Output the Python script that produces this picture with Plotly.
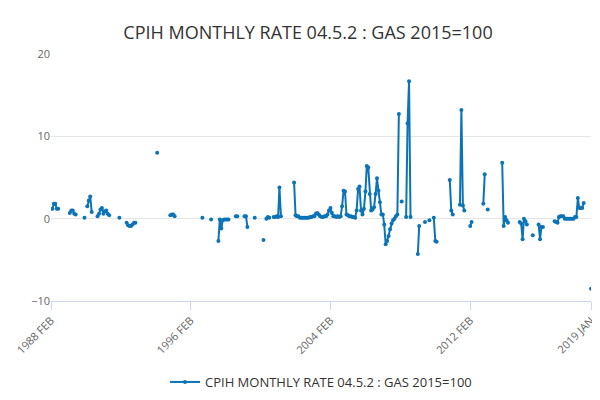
import pandas as pd
import plotly.graph_objects as go

# monthly series from 1988 FEB; segments = (month offset, consecutive values)
segments = [
    (1, [1.2, 1.8, 1.8, 1.2, 1.2]),
    (13, [0.7, 1.0, 1.0, 0.6, 0.5]),
    (23, [0.1]),
    (25, [1.5, 2.2, 2.7, 0.8]),
    (32, [0.3, 0.6, 1.1, 1.3, 0.6, 0.9, 1.0, 0.6, 0.4]),
    (47, [0.1]),
    (52, [-0.5, -0.8, -0.9, -0.9, -0.7, -0.5, -0.5]),
    (73, [8.0]),
    (82, [0.4, 0.5, 0.5, 0.3]),
    (104, [0.1]),
    (110, [-0.1]),
    (115, [-2.7, -0.1, -1.2, -0.2, -0.1, -0.1, -0.1, -0.1]),
    (127, [0.3, 0.3]),
    (133, [0.3, 0.3, -1.0]),
    (140, [0.1]),
    (146, [-2.6]),
    (148, [0.0, 0.2, 0.1]),
    (153, [0.2, 0.2, 0.3, 0.2, 3.8, 0.3]),
    (167, [4.4, 0.4, 0.3, 0.3, 0.1, 0.1, 0.1, 0.1, 0.1, 0.1, 0.1, 0.2, 0.2,
           0.3, 0.3, 0.6, 0.7, 0.5, 0.3, 0.2, 0.2, 0.3, 0.3, 0.5, 1.0, 1.3,
           0.7, 0.3, 0.3, 0.2, 0.3, 0.2, 0.3, 1.5, 3.4, 3.3, 0.5, 0.4, 0.3,
           0.3, 0.2, 0.2, 0.1, 1.0, 3.6, 3.9, 1.0, 0.5, 1.2, 3.3, 6.4, 6.2,
           3.0, 1.0, 1.1, 1.4, 3.0, 4.9, 3.4, 2.0, 0.5, 0.5, -0.7, -3.1,
           -2.7, -2.1, -1.3, -0.6, -0.2, 0.0, 0.3, 0.5, 12.7]),
    (241, [2.1]),
    (244, [0.2, 11.6, 16.7, 0.2]),
    (252, [-4.3, -0.9]),
    (257, [-0.4]),
    (260, [-0.2]),
    (263, [0.1, -2.7, -2.8]),
    (274, [4.7, 1.0, 0.5]),
    (281, [1.7, 13.2, 1.6, 1.0]),
    (288, [-0.9, -0.4]),
    (297, [1.8, 5.4]),
    (300, [1.1]),
    (310, [6.8, -0.9, 0.2, -0.2, -0.5]),
    (322, [-0.4, -0.6, -2.5, 0.0, -0.3, -0.7]),
    (331, [-2.0]),
    (335, [-0.7, -2.5, -1.0, -1.0]),
    (346, [-0.3, -0.4, -0.5, 0.2, 0.3, 0.3, 0.3, 0.0, 0.0, 0.0, 0.0, 0.0,
           0.0, 0.0, 0.2, 0.2, 2.5, 1.3, 1.3, 1.3, 1.9]),
    (371, [-8.5]),
]

dates = pd.date_range("1988-02-01", periods=372, freq="MS")
values = [None] * len(dates)
for start, vals in segments:
    for i, v in enumerate(vals):
        values[start + i] = v

tick_dates = ["1988-02-01", "1996-02-01", "2004-02-01", "2012-02-01", "2019-01-01"]
tick_text = ["1988 FEB", "1996 FEB", "2004 FEB", "2012 FEB", "2019 JAN"]

color = "#0b74b7"
fig = go.Figure(go.Scatter(
    x=dates, y=values, mode="lines+markers",
    line=dict(color=color, width=2), marker=dict(color=color, size=4),
    connectgaps=False, name="CPIH MONTHLY RATE 04.5.2 : GAS 2015=100",
))

fig.update_layout(
    width=600, height=400,
    title=dict(text="CPIH MONTHLY RATE 04.5.2 : GAS 2015=100", x=0.5, y=0.955,
               xanchor="center", font=dict(size=18, color="#333")),
    font=dict(family="Open Sans, sans-serif", color="#555"),
    margin=dict(l=43, r=17, t=46, b=107, autoexpand=False),
    plot_bgcolor="white", paper_bgcolor="white",
    showlegend=True,
    legend=dict(orientation="h", x=0.5, xanchor="center", yref="container",
                y=0.065, yanchor="middle", font=dict(size=13, color="#333")),
    xaxis=dict(tickvals=tick_dates, ticktext=tick_text, tickangle=-45,
               range=["1988-02-01", "2019-01-01"], showgrid=False, automargin=False,
               showline=True, linecolor="#ccd6eb", ticks="outside",
               tickcolor="#ccd6eb", ticklen=8, tickfont=dict(size=11, color="#666")),
    yaxis=dict(range=[-10, 20], tickvals=[-10, 0, 10, 20], gridcolor="#e6e6e6",
               zeroline=False, automargin=False, tickfont=dict(size=11, color="#666")),
    annotations=[dict(text="Source:", x=1.0, y=-0.51, xref="paper", yref="paper",
                      xanchor="right", showarrow=False, font=dict(size=12, color="#666"))],
)

fig.write_html("out.html")
